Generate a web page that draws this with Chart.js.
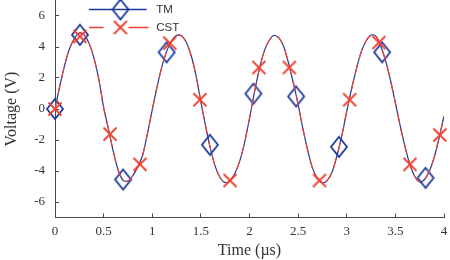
<!DOCTYPE html>
<html><head><meta charset="utf-8">
<script src="https://cdn.jsdelivr.net/npm/chart.js@4/dist/chart.umd.min.js"></script>
<style>html,body{margin:0;padding:0;background:#fff;}#wrap{width:450px;height:260px;}</style>
</head><body><div id="wrap"><canvas id="c" width="450" height="260"></canvas></div>
<script>
const seriesNames = ['TM', 'CST'];
const timeUs = [0,0.05,0.1,0.15,0.2,0.25,0.3,0.35,0.4,0.45,0.5,0.55,0.6,0.65,0.7,0.75,0.8,0.85,0.9,0.95,
  1,1.05,1.1,1.15,1.2,1.25,1.3,1.35,1.4,1.45,1.5,1.55,1.6,1.65,1.7,1.75,1.8,1.85,1.9,1.95,
  2,2.05,2.1,2.15,2.2,2.25,2.3,2.35,2.4,2.45,2.5,2.55,2.6,2.65,2.7,2.75,2.8,2.85,2.9,2.95,
  3,3.05,3.1,3.15,3.2,3.25,3.3,3.35,3.4,3.45,3.5,3.55,3.6,3.65,3.7,3.75,3.8,3.85,3.9,3.95,4];
const tmV = [0,1.5,2.85,3.9,4.55,4.9,4.78,4.25,3.3,1.95,0.1,-1.3,-2.75,-3.95,-4.6,-4.65,-4.3,-3.75,-3.0,-1.6,
  -0.05,1.45,2.75,3.75,4.4,4.75,4.72,4.3,3.45,2.15,0.45,-1.15,-2.6,-3.75,-4.45,-4.75,-4.62,-4.15,-3.35,-2.15,
  -0.6,1.05,2.55,3.7,4.4,4.74,4.6,4.05,3.0,1.7,0.3,-1.3,-2.7,-3.85,-4.5,-4.77,-4.6,-4.05,-3.0,-1.7,
  -0.15,1.3,2.6,3.7,4.4,4.77,4.7,4.05,3.1,1.85,0.4,-1.1,-2.45,-3.6,-4.35,-4.7,-4.55,-4.0,-3.1,-1.85,-0.45];
const cstV = [0,1.5,2.85,3.9,4.55,4.9,4.78,4.25,3.3,1.95,0.1,-1.3,-2.75,-3.95,-4.6,-4.65,-4.3,-3.75,-3.0,-1.6,
  -0.05,1.45,2.75,3.75,4.4,4.75,4.72,4.3,3.45,2.15,0.45,-1.15,-2.6,-3.75,-4.45,-4.75,-4.62,-4.15,-3.35,-2.15,
  -0.6,1.05,2.55,3.7,4.4,4.74,4.6,4.05,3.0,1.7,0.3,-1.3,-2.7,-3.85,-4.5,-4.77,-4.6,-4.05,-3.0,-1.7,
  -0.15,1.3,2.6,3.7,4.4,4.77,4.7,4.05,3.1,1.85,0.4,-1.1,-2.45,-3.6,-4.35,-4.7,-4.55,-4.0,-3.1,-1.85,-0.45];
const tmMarkT = [0,0.257,0.70,1.148,1.593,2.04,2.48,2.92,3.364,3.81];
const tmMarkV = [0,4.79,-4.55,3.66,-2.31,0.99,0.81,-2.44,3.66,-4.44];
const cstMarkT = [0,0.257,0.565,0.874,1.18,1.49,1.80,2.097,2.41,2.72,3.03,3.33,3.65,3.957];
const cstMarkV = [0,4.68,-1.62,-3.57,4.25,0.6,-4.61,2.68,2.68,-4.61,0.6,4.29,-3.57,-1.68];
const xTicks = [0,0.5,1,1.5,2,2.5,3,3.5,4];
const yTicks = [-6,-4,-2,0,2,4,6];

const BLUE = '#1d3a9a', RED = '#ef4131', AXIS = '#4a4a4a', TXT = '#333333';

function mk(w, h) { const c = document.createElement('canvas'); c.width = w; c.height = h; return c; }
function drawDiamond(g, cx, cy, w, h) {
  g.strokeStyle = BLUE; g.lineWidth = 1.8; g.setLineDash([]);
  g.beginPath(); g.moveTo(cx, cy - h / 2); g.lineTo(cx + w / 2, cy); g.lineTo(cx, cy + h / 2); g.lineTo(cx - w / 2, cy); g.closePath(); g.stroke();
}
function drawX(g, cx, cy, s) {
  g.strokeStyle = RED; g.lineWidth = 1.8; g.setLineDash([]);
  g.beginPath(); g.moveTo(cx - s / 2, cy - s / 2); g.lineTo(cx + s / 2, cy + s / 2);
  g.moveTo(cx + s / 2, cy - s / 2); g.lineTo(cx - s / 2, cy + s / 2); g.stroke();
}
const diamondImg = mk(20, 24); drawDiamond(diamondImg.getContext('2d'), 10, 12, 16, 20);
const xImg = mk(18, 18); drawX(xImg.getContext('2d'), 9, 9, 13);
const legTM = mk(62, 25); (function () { const g = legTM.getContext('2d');
  g.strokeStyle = BLUE; g.lineWidth = 1.6; g.beginPath(); g.moveTo(0, 12.5); g.lineTo(58, 12.5); g.stroke();
  drawDiamond(g, 32, 12.5, 16, 20); })();
const legCST = mk(62, 25); (function () { const g = legCST.getContext('2d');
  g.strokeStyle = RED; g.lineWidth = 1.6; g.beginPath(); g.moveTo(0, 12.5); g.lineTo(15, 12.5); g.moveTo(40, 12.5); g.lineTo(60, 12.5); g.stroke();
  drawX(g, 32, 12.5, 13); })();

const pairs = (xs, ys) => xs.map((x, i) => ({ x: x, y: ys[i] }));

const placeLegend = {
  id: 'placeLegend',
  afterLayout(chart) {
    const lg = chart.legend; if (!lg) return;
    const w = lg.width, h = lg.height;
    lg.left = 82; lg.top = -2.75; lg.right = lg.left + w; lg.bottom = lg.top + h;
  }
};

const axisCommon = {
  grid: { drawOnChartArea: false, drawTicks: true, tickLength: -4, color: AXIS, lineWidth: 1 },
  border: { display: true, color: AXIS, width: 1 },
};

new Chart(document.getElementById('c'), {
  type: 'line',
  data: {
    datasets: [
      { label: seriesNames[0], data: pairs(timeUs, tmV), borderColor: BLUE, borderWidth: 1.2, pointRadius: 0, tension: 0.3, fill: false, order: 4 },
      { label: seriesNames[0] + ' markers', data: pairs(tmMarkT, tmMarkV), showLine: false, pointStyle: diamondImg, pointRadius: 8, pointHoverRadius: 8, borderColor: BLUE, clip: false, order: 3 },
      { label: seriesNames[1], data: pairs(timeUs, cstV), borderColor: RED, borderWidth: 1.2, borderDash: [10, 6], pointRadius: 0, tension: 0.3, fill: false, order: 2 },
      { label: seriesNames[1] + ' markers', data: pairs(cstMarkT, cstMarkV), showLine: false, pointStyle: xImg, pointRadius: 7, pointHoverRadius: 7, borderColor: RED, clip: false, order: 1 }
    ]
  },
  options: {
    responsive: false, animation: false, devicePixelRatio: 1,
    layout: { autoPadding: false, padding: { left: 0, right: 6, top: 0.5, bottom: 0 } },
    plugins: {
      tooltip: { enabled: false },
      legend: {
        display: true, position: 'chartArea', align: 'start', fullSize: false,
        labels: {
          usePointStyle: true, pointStyleWidth: 62, padding: 6.5,
          font: { family: 'Liberation Sans', size: 11.5 }, color: TXT,
          generateLabels: () => [
            { text: seriesNames[0], pointStyle: legTM, datasetIndex: 0, fillStyle: 'rgba(0,0,0,0)', strokeStyle: 'rgba(0,0,0,0)', lineWidth: 0, hidden: false, fontColor: TXT },
            { text: seriesNames[1], pointStyle: legCST, datasetIndex: 2, fillStyle: 'rgba(0,0,0,0)', strokeStyle: 'rgba(0,0,0,0)', lineWidth: 0, hidden: false, fontColor: TXT }
          ]
        }
      }
    },
    scales: {
      x: Object.assign({}, axisCommon, {
        type: 'linear', position: 'bottom', min: 0, max: 4,
        afterBuildTicks: s => { s.ticks = xTicks.map(v => ({ value: v })); },
        afterFit: s => { s.height = 42.5; s.paddingLeft = 0; s.paddingRight = 0; s.paddingTop = 0; s.paddingBottom = 0; },
        ticks: { font: { family: 'Liberation Serif', size: 13 }, color: TXT, padding: 10, maxRotation: 0, autoSkip: false, callback: v => String(v) },
        title: { display: true, text: 'Time (µs)', font: { family: 'Liberation Serif', size: 16 }, color: TXT, padding: { top: 0, bottom: 0 } }
      }),
      y: Object.assign({}, axisCommon, {
        type: 'linear', position: 'left', min: -7, max: 7,
        afterBuildTicks: s => { s.ticks = yTicks.map(v => ({ value: v })); },
        afterFit: s => { s.width = 55; s.paddingLeft = 0; s.paddingRight = 0; s.paddingTop = 0; s.paddingBottom = 0; },
        ticks: { font: { family: 'Liberation Serif', size: 13 }, color: TXT, padding: 14, autoSkip: false, callback: v => String(v) },
        title: { display: true, text: 'Voltage (V)', font: { family: 'Liberation Serif', size: 16 }, color: TXT, padding: { top: 2, bottom: 0 } }
      })
    }
  },
  plugins: [placeLegend]
});
</script>
</body></html>
